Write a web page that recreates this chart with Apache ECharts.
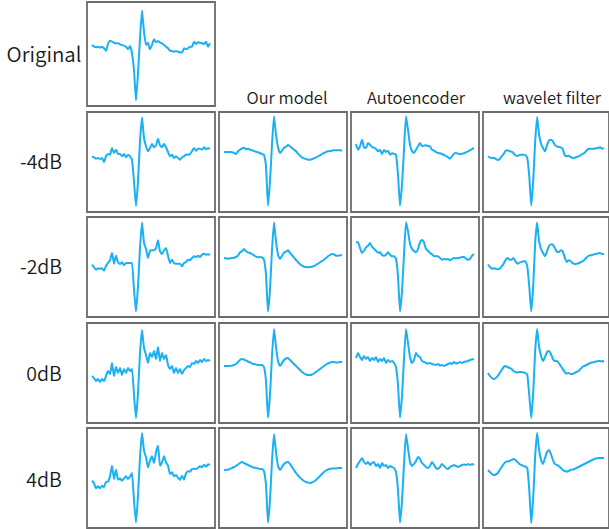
<!DOCTYPE html>
<html><head><meta charset="utf-8">
<script src="https://cdn.jsdelivr.net/npm/echarts@6/dist/echarts.min.js"></script>
<style>html,body{margin:0;padding:0;background:#fff}#c{width:609px;height:529px}</style>
</head><body><div id="c"></div>
<script>
const rowLabels = ['-4dB', '-2dB', '0dB', '4dB'];
const colLabels = ['Our model', 'Autoencoder', 'wavelet filter'];

const original = [61,59.3,58.7,59.3,58.3,59.3,57.7,55.3,62,65.3,64.3,63.3,62.7,62.7,61.7,61,60.3,59.3,56.7,60,52.7,36,5.5,32.7,67.7,95.5,74.3,61,63.3,56.7,61,66.7,63.7,65,63.3,62.7,61,59.3,57.7,55.3,55,54.3,55,54.3,53.7,53.3,57.7,56.7,57.7,59.3,59.3,64.3,62,63.7,63.3,62.7,62,64.3,59.3,62.7];

const noisyM4 = [55.7,54.7,53.3,54,53,54,50,55.7,58,57.3,64,59,62.3,58,58,55.7,58,54.7,57.3,55.7,52.3,30.7,6,30.7,70.7,94.5,74,65.7,60.7,64,68,64.7,66.7,73.3,66.7,64.7,68,64.7,60,55.7,57.3,54,55.7,54,52.3,54.7,55.7,57.3,57.3,58,60.7,64,61.3,63.3,63.3,62.3,64.7,62.7,64,63];
const oursM4 = [60,60,60,60,59.7,59,58,60.7,62.3,63.7,64.3,62.7,63.3,62.3,61.7,61,60.3,59.7,59,58,57.3,45.7,6.5,30.7,67.3,95.7,77.3,64.7,59,61.3,64,65.3,67,65.7,64,62.3,60.7,58.3,56.3,54.7,53.7,53,52.3,52.3,52.7,53.7,54.7,55.7,56.7,58,59,60,60.7,61,61.3,61.7,61.7,61.7,61.7,61.3];
const aeM4 = [68,62.3,65.7,72.3,64.7,64,69,67.3,65,64.3,63,60.7,62.3,58,62,60,61.3,57.3,58.7,58.3,57.3,37.3,6.5,27.3,62.3,95.7,82.3,67.3,60.7,59,62.3,65.7,69,66,66.3,66.7,66,65.7,62.3,61.3,60,59,58.7,58,57,56,54.7,53.3,55.7,58.3,59,58.3,58,58.3,58.7,59.7,60.7,61.7,63,64];
const wavM4 = [55.7,54.3,54,54.3,53,52,53,55.7,58,61.3,61.7,60.7,60.3,58.7,56.7,56,57,57.3,57.3,57,54,35.7,6.5,30.7,70.7,95,77.3,68,64,60.7,66.7,71.3,72.3,70.7,67,65.7,65,64.7,63,56.7,55.7,56.3,55,54,54.3,55,55.7,56.7,58,59,61.3,63,63.3,63.3,63.3,63.7,64.3,64.7,63.3,63.7];

const noisyM2 = [52.3,49.7,47.3,48.7,48.3,48.7,46.3,51.3,54,56.7,64,53.3,61.3,54.7,53,54.7,51.7,54,54,54,54,27.3,5.5,30.7,69,94.5,74,68,59,66.3,66.7,66.7,68.7,76.7,65.7,63,66.7,69,61.3,54,57.3,54,53.3,53.3,53.3,50.7,54,55,57.3,56.7,59,60.7,60,61.3,60,62.3,63.3,62.3,62.7,62];
const oursM2 = [59,58.7,58.3,58.7,59,59.3,60,61.3,64.7,65.7,68,65.7,64.7,64,63,61.7,60.3,59.7,60,59.7,57.3,42.3,5.5,27.3,67.3,94.5,75.7,62.3,58,61.3,64.3,65.3,66.7,64,62,59.3,57,54.7,52.7,51.3,50.3,50,49.7,50,50.3,51,52,53.3,54.7,56,57.3,59,60.7,62,63,62.7,61.3,61.3,61.7,61.7];
const aeM2 = [74.7,74.7,69,64,66.3,69.7,71.3,74,70.3,68.3,66.3,64.3,64.7,62,61.3,62.3,64.7,62.3,60.7,60.7,58.3,40.7,5.5,25.7,62.3,94.7,85.7,73.3,68.3,66,64.7,68,74.7,77.3,74.7,68,66.3,64,62.7,61,60.7,60.7,59,57.3,58,57.7,58,56.7,58,59,58.7,59,59.3,60,60,58.3,57.3,58,61.3,63];
const wavM2 = [52.3,50,48.3,48.7,48.3,47.7,48.3,50.7,53.3,57.3,59,57.3,57.3,59,55.7,53.3,54.3,55,55.7,55.7,50.7,30.7,5.5,30.7,74,94.5,75.7,68,64,60.7,65.7,70.7,72.7,72.3,69,65.3,65,66.7,65.7,59.7,55,56.7,56,54,53,53.3,53.7,54.7,55.7,57,59.3,61,61.7,62,62.7,63,63.7,64,63,63];

const noisy0 = [47,45,42,44,41,44,42,47,52,49,60,47,56,50,55,48,54,50,55,52,54,28,5,30,70,93,75,68,60,70,66,72,64,76,62,70,64,68,58,54,57,50,55,50,54,49,53,55,57,56,60,59,62,60,63,61,64,62,63,62];
const ours0 = [57,57,57,57,57.5,58,59,61,63,64,63.5,62.5,61.5,60.5,59.5,59,58.5,58,58,58,56,42,5.5,28,67,94,76,62,57,60,63,64.5,65,63,61,59,57,55,53,51,49.5,48.5,48,48,48.5,49.5,51,52.5,54,55.5,57,58.5,59.5,60.5,61,61,60.5,60.5,61,61];
const ae0 = [65,70,66,63,67,64,66,62,65,63,66,61,64,62,65,60,63,61,62,60,56,38,5.5,27,64,94,80,66,60,63,70,67,66,62,61,60,59.5,60,59,58.5,58,59,57.5,58,57,58,59,60,59,61,59.5,60,61,60,61,61.5,62,63,63.5,64];
const wav0 = [50,47,45,44,45,47,50,53,56,57,56,55,54,52,51,50.5,51,51,50.5,50,48,28,5,30,72,94,76,67,62,66,71,72,69,64,62,62,60,57,54,51,49.5,50,49,49,50,51,52,54,56,57,58,59,60,60.5,61,61.5,62,62,61.5,62];

const noisy4 = [47.3,44.7,39.7,41.7,39.7,42.3,40.7,46.3,46.3,51.7,62.3,49,58.3,48.3,49.7,47.3,49.7,51.7,49,51.3,55,27.3,5.5,32.3,70.7,95,77.3,70.7,60.7,67.3,71.7,65,75.7,82.3,62.3,65.7,71.7,65.7,62.3,54,55.7,51.7,53,50.3,48,52.3,48.3,54.7,56.7,56.3,59,59.3,59,60.3,61.7,60.7,63.3,61.3,63.7,63];
const ours4 = [58,58,58.5,59,60,61,62,63.5,65,66,65,64,63,62,61,60.5,60,59.5,59,59,57,43,5.5,28,67,94,76,62,58,61,64,65.5,66,64,61,58,55,52.5,50.5,48.5,47,46,45.5,45,45.5,46.5,48,50,52,54,56,57.5,58.5,59,59.5,59.5,59.5,60,60,60];
const ae4 = [60,64,67,70,66,64,66,63,65,66,62,64,60,65,62,63,60,62,61,60,56,38,5.5,27,64,94,80,66,62,64,67,71,69,65,63,61,60,62,66,63,60,59,61,64,62,60,59,61,62,63,62,61,62,63,63.5,63,64,63,64,63];
const wav4 = [58,56,54,53,53.5,55,58,61,64,66,66.5,67,68,69,68,66,64,63,62,61.5,60,38,5,30,72,95,78,68,64,70,76,78,74,68,64,63,62,60,58,57,56.5,57,58,58.5,59,60,61,62,63,64,65,66,67,68,69,69.5,70,70,70,70];

const rows = [
  [noisyM4, oursM4, aeM4, wavM4],
  [noisyM2, oursM2, aeM2, wavM2],
  [noisy0, ours0, ae0, wav0],
  [noisy4, ours4, ae4, wav4]
];

const colLeft = [87, 219, 351, 483];
const rowTop = [112, 217, 323, 428];
const PW = 128, PH = 100;
const LINE = '#1ab0f4';
const BORDER = '#6c6c6c';
const FONT = '"Noto Sans CJK SC", "Noto Sans", sans-serif';

const grid = [], xAxis = [], yAxis = [], series = [];
function addPanel(left, top, h, ymax, data) {
  const k = grid.length;
  grid.push({left: left, top: top, width: PW, height: h, show: true,
    borderColor: BORDER, borderWidth: 1.8, backgroundColor: 'transparent', containLabel: false});
  xAxis.push({gridIndex: k, type: 'value', min: -2.5, max: 61.5, show: false});
  yAxis.push({gridIndex: k, type: 'value', min: 0, max: ymax, show: false});
  series.push({type: 'line', xAxisIndex: k, yAxisIndex: k, data: data.map((v, i) => [i, v]),
    showSymbol: false, symbol: 'none', smooth: 0.15, animation: false,
    lineStyle: {color: LINE, width: 2}});
}
addPanel(87, 2, 104, 104, original);
rows.forEach((r, ri) => r.forEach((d, ci) => addPanel(colLeft[ci], rowTop[ri], PH, 100, d)));

function txt(s, x, y, size) {
  return {type: 'text', x: x, y: y, silent: true,
    style: {text: s, font: '350 ' + size + 'px ' + FONT, fill: '#1a1a1a',
      align: 'center', verticalAlign: 'middle', textAlign: 'center', textVerticalAlign: 'middle'}};
}
const graphic = [txt('Original', 44, 53, 20.5)];
const rowLabelY = [160, 265, 372, 478];
const rowLabelX = [41, 41, 44, 44];
rowLabels.forEach((s, i) => graphic.push(txt(s, rowLabelX[i], rowLabelY[i], 19.5)));
const colCenter = [287, 416, 552];
colLabels.forEach((s, i) => graphic.push(txt(s, colCenter[i], 97, 16.5)));

const chart = echarts.init(document.getElementById('c'), null, {renderer: 'svg'});
chart.setOption({animation: false, grid, xAxis, yAxis, series, graphic});
</script></body></html>
